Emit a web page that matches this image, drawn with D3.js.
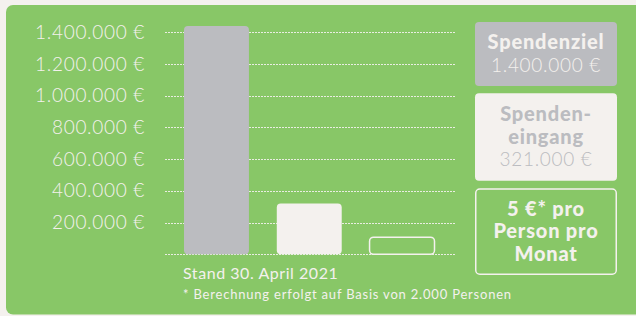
<!DOCTYPE html>
<html lang="de">
<head>
  <meta charset="UTF-8">
  <title>Spendenstand</title>
  <script src="https://d3js.org/d3.v7.min.js"></script>
  <style>
    body {
      margin: 0;
      background: #f4f1ee;
      font-family: Lato, "Open Sans", sans-serif;
    }
    svg { display: block; }
    .tick-label { font-weight: 300; font-size: 19px; letter-spacing: 0.7px; fill: #f4f1ee; }
  </style>
</head>
<body>
  <svg width="636" height="316"></svg>
  <script>
    // Data
    const categories = ["Spendenziel", "Spendeneingang", "Monatsbeitrag"];
    const barValues = [1440000, 321000, 108000];
    const tickValues = [0, 200000, 400000, 600000, 800000, 1000000, 1200000, 1400000];
    const legendTitles = [["Spendenziel"], ["Spenden-", "eingang"], ["5 €* pro", "Person pro", "Monat"]];
    const legendAmounts = [1400000, 321000, null];
    const standText = "Stand 30. April 2021";
    const footnote = "* Berechnung erfolgt auf Basis von 2.000 Personen";

    const cream = "#f4f1ee",
          grey = "#bbbcc0",
          green = "#88c767";

    const de = d3.formatLocale({ decimal: ",", thousands: ".", grouping: [3], currency: ["", " €"] });
    const euro = v => de.format(",.0f")(v) + " €";

    const svg = d3.select("svg");

    // green panel
    svg.append("rect")
       .attr("x", 6).attr("y", 5)
       .attr("width", 650).attr("height", 309.5)
       .attr("rx", 7)
       .attr("fill", green);

    const y = d3.scaleLinear()
                .domain([0, 1400000])
                .range([254.3, 32.3]);

    const x = d3.scaleBand()
                .domain(categories)
                .range([184, 434.5])
                .paddingInner(0.3);

    // dotted grid lines
    svg.append("g")
       .selectAll("line")
       .data(tickValues)
       .join("line")
       .attr("x1", 165).attr("x2", 455)
       .attr("y1", d => Math.round(y(d)) + 0.5)
       .attr("y2", d => Math.round(y(d)) + 0.5)
       .attr("stroke", cream)
       .attr("stroke-opacity", 0.9)
       .attr("stroke-dasharray", "2,1");

    // tick labels
    svg.append("g")
       .selectAll("text")
       .data(tickValues.filter(d => d > 0))
       .join("text")
       .attr("class", "tick-label")
       .attr("x", 145)
       .attr("y", d => y(d) + 6.5)
       .attr("text-anchor", "end")
       .text(d => euro(d));

    const fills = [grey, cream, "none"];
    const strokes = ["none", "none", cream];

    // bars
    svg.append("g")
       .selectAll("rect")
       .data(barValues)
       .join("rect")
       .attr("x", (d, i) => x(categories[i]))
       .attr("y", d => y(d))
       .attr("width", x.bandwidth())
       .attr("height", d => y(0) - y(d))
       .attr("rx", 4)
       .attr("fill", (d, i) => fills[i])
       .attr("stroke", (d, i) => strokes[i])
       .attr("stroke-width", 1.5);

    // legend boxes on the right
    const boxes = [
      { y: 22, h: 64, titleColor: cream, amountColor: cream },
      { y: 93.3, h: 87.4, titleColor: grey, amountColor: grey },
      { y: 188.3, h: 86.7, titleColor: cream, amountColor: cream }
    ];
    const lineHeight = 22.5;

    boxes.forEach((b, i) => {
      const g = svg.append("g");
      const inset = strokes[i] === "none" ? 0 : 0.75;
      g.append("rect")
       .attr("x", 475 + inset).attr("y", b.y + inset)
       .attr("width", 142 - 2 * inset).attr("height", b.h - 2 * inset)
       .attr("rx", 4)
       .attr("fill", fills[i])
       .attr("stroke", strokes[i])
       .attr("stroke-width", 1.5);

      const lines = legendTitles[i].map(t => ({ t, bold: true }));
      if (legendAmounts[i] != null) lines.push({ t: euro(legendAmounts[i]), bold: false });
      const cy = b.y + b.h / 2;
      const first = cy - (lines.length - 1) * lineHeight / 2 + 6.5;

      lines.forEach((l, j) => {
        g.append("text")
         .attr("x", 546)
         .attr("y", first + j * lineHeight)
         .attr("text-anchor", "middle")
         .attr("fill", l.bold ? b.titleColor : b.amountColor)
         .style("font-size", l.bold ? "20px" : "19px")
         .style("font-weight", l.bold ? 900 : 300)
         .style("letter-spacing", l.bold ? "0.8px" : "0.7px")
         .text(l.t);
      });
    });

    svg.append("text")
       .attr("x", 183).attr("y", 279)
       .attr("fill", cream)
       .style("font-size", "16px")
       .style("letter-spacing", "0.55px")
       .text(standText);

    svg.append("text")
       .attr("x", 183).attr("y", 299)
       .attr("fill", cream)
       .style("font-size", "13px")
       .style("letter-spacing", "0.8px")
       .text(footnote);
  </script>
</body>
</html>
